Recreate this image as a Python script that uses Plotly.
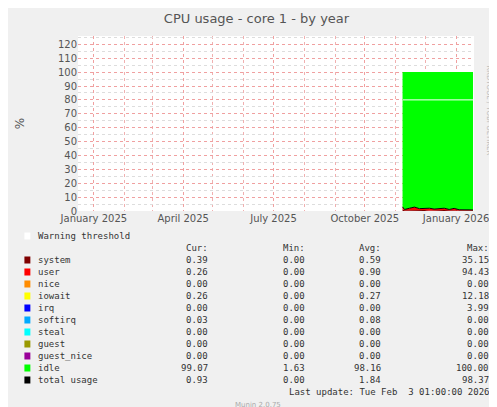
import plotly.graph_objects as go

# weekly-ish samples from the year graph
dates = ["2025-11-08", "2025-11-10", "2025-11-15", "2025-11-20", "2025-11-25", "2025-11-30",
         "2025-12-05", "2025-12-10", "2025-12-15", "2025-12-20", "2025-12-25", "2025-12-30",
         "2026-01-04", "2026-01-09", "2026-01-14", "2026-01-18"]
system = [1.2, 0.5, 0.6, 0.8, 0.5, 0.7, 0.4, 0.6, 0.5, 0.8, 0.5, 0.6, 0.4, 0.5, 0.4, 0.4]
user = [1.8, 0.6, 1.4, 2.0, 1.2, 1.0, 1.6, 0.8, 1.4, 1.2, 0.6, 1.3, 0.5, 0.6, 0.4, 0.3]
idle = [97.0, 98.9, 98.0, 97.2, 98.3, 98.3, 98.0, 98.6, 98.1, 98.0, 98.9, 98.1, 99.1, 98.9, 99.2, 99.3]
total = [3.0, 1.1, 2.0, 2.8, 1.7, 1.7, 2.0, 1.4, 1.9, 2.0, 1.1, 1.9, 0.9, 1.1, 0.8, 0.7]
warning = 80

names = ["system", "user", "nice", "iowait", "irq", "softirq", "steal",
         "guest", "guest_nice", "idle", "total usage"]
colors = ["#7f0000", "#ff0000", "#ff8c00", "#ffff00", "#0000ff", "#00aaff",
          "#00ffff", "#999900", "#990099", "#00ff00", "#000000"]
cur = ["0.39", "0.26", "0.00", "0.26", "0.00", "0.03", "0.00", "0.00", "0.00", "99.07", "0.93"]
mins = ["0.00", "0.00", "0.00", "0.00", "0.00", "0.00", "0.00", "0.00", "0.00", "1.63", "0.00"]
avgs = ["0.59", "0.90", "0.00", "0.27", "0.00", "0.08", "0.00", "0.00", "0.00", "98.16", "1.84"]
maxs = ["35.15", "94.43", "0.00", "12.18", "3.99", "0.00", "0.00", "0.00", "0.00", "100.00", "98.37"]

W, H = 497, 407
L, R, T, B = 67, 466, 28, 203
MONO = "DejaVu Sans Mono"

fig = go.Figure()
for name, vals, col in [("system", system, "#7f0000"), ("user", user, "#ff0000"), ("idle", idle, "#00ff00")]:
    fig.add_scatter(x=dates, y=vals, mode="lines", stackgroup="cpu", fillcolor=col,
                    line=dict(width=0, color=col), name=name)
fig.add_scatter(x=dates, y=total, mode="lines", line=dict(color="black", width=1))
fig.add_scatter(x=[dates[0], dates[-1]], y=[warning, warning], mode="lines",
                line=dict(color="white", width=1))

fig.update_layout(
    width=W, height=H, showlegend=False,
    paper_bgcolor="#f0f0f0", plot_bgcolor="white",
    margin=dict(l=L, r=W - R, t=T, b=H - B),
    title=dict(text="CPU usage - core 1 - by year", x=0.5, y=0.985, yanchor="top",
               font=dict(family="DejaVu Sans", size=13, color="#555")),
    font=dict(family="DejaVu Sans", size=10, color="#555"),
)
fig.update_xaxes(type="date", range=["2024-12-16", "2026-01-19"],
                 tickvals=["2025-01-01", "2025-04-01", "2025-07-01", "2025-10-01", "2026-01-01"],
                 ticktext=["January 2025", "April 2025", "July 2025", "October 2025", "January 2026"],
                 showgrid=True, gridcolor="#f0a0a0", griddash="dot", gridwidth=1,
                 minor=dict(dtick="M1", showgrid=True, gridcolor="#f0b0b0", griddash="dot"),
                 ticks="", zeroline=False, showline=False)
fig.update_yaxes(range=[0, 126], dtick=10, showgrid=True, gridcolor="#f0a0a0", griddash="dot",
                 minor=dict(dtick=5, showgrid=True, gridcolor="#dddddd", griddash="dot"),
                 zeroline=False, ticks="", showline=False,
                 title=dict(text="%", standoff=30))


def pl(x, y):
    # figure pixels -> paper coords (paper is the plot area)
    return (x - L) / (R - L), 1 - (y - T) / (B - T)


def txt(x, y, s, anchor="left", size=9, color="#333", family=MONO):
    px_, py_ = pl(x, y)
    fig.add_annotation(x=px_, y=py_, xref="paper", yref="paper", text=s,
                       showarrow=False, xanchor=anchor, yanchor="middle",
                       font=dict(family=family, size=size, color=color))


def box(x, y, col):
    x0, y0 = pl(x, y - 3.5)
    x1, y1 = pl(x + 6, y + 3.5)
    fig.add_shape(type="rect", xref="paper", yref="paper", x0=x0, x1=x1, y0=y1, y1=y0,
                  fillcolor=col, line=dict(width=0))


box(13, 228, "white")
txt(25, 228, "Warning threshold")
txt(200, 240, "Cur:", "right")
txt(298, 240, "Min:", "right")
txt(374, 240, "Avg:", "right")
txt(483, 240, "Max:", "right")
for i, n in enumerate(names):
    y = 252 + 12 * i
    box(13, y, colors[i])
    txt(25, y, n)
    txt(200, y, cur[i], "right")
    txt(298, y, mins[i], "right")
    txt(374, y, avgs[i], "right")
    txt(483, y, maxs[i], "right")
txt(483, 384, "Last update: Tue Feb  3 01:00:00 2026", "right")
txt(248, 397, "Munin 2.0.75", "center", size=7, color="#aaa", family="DejaVu Sans")
ax, ay = pl(487, 55)
fig.add_annotation(x=ax, y=ay, xref="paper", yref="paper",
                   text="RRDTOOL / TOBI OETIKER", textangle=90, showarrow=False,
                   font=dict(family="DejaVu Sans", size=7, color="#bbb"))

fig.write_html("out.html")
